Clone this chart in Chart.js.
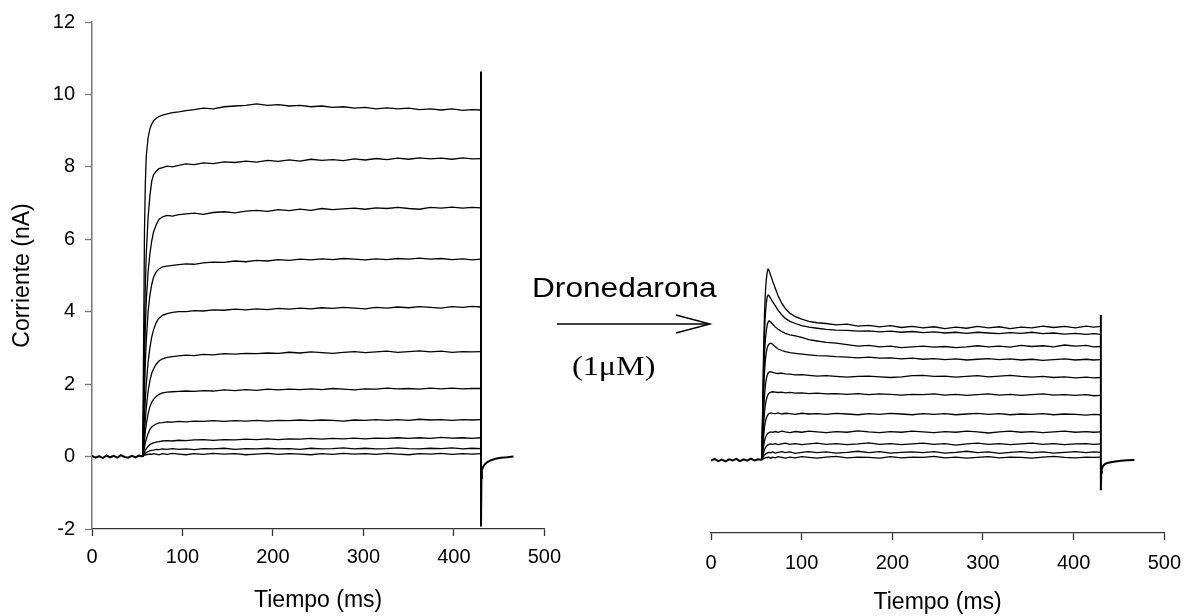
<!DOCTYPE html>
<html>
<head>
<meta charset="utf-8">
<script src="https://cdn.jsdelivr.net/npm/chart.js@4.4.1/dist/chart.umd.min.js"></script>
<style>
  html, body { margin: 0; padding: 0; background: #fff; }
  #wrap { position: relative; width: 1186px; height: 616px; overflow: hidden; }
  #left { position: absolute; left: 0; top: 0; }
  #right { position: absolute; left: 590px; top: 0; }
  .lbl { position: absolute; color: #000; white-space: nowrap; line-height: 1; transform-origin: 0 0; }
</style>
</head>
<body>
<div id="wrap">
  <canvas id="left" width="570" height="616"></canvas>
  <canvas id="right" width="602" height="616"></canvas>
  <svg style="position:absolute;left:0;top:0" width="1186" height="616">
    <line x1="557" y1="324" x2="709" y2="324" stroke="#000" stroke-width="1.4"/>
    <polyline points="676,315 710,324 676,333" fill="none" stroke="#000" stroke-width="1.4"/>
  </svg>
  <div class="lbl" style="left:532px; top:272px; font: 28px 'Liberation Sans', Arial, sans-serif; transform: scaleX(1.13);">Dronedarona</div>
  <div class="lbl" style="left:572px; top:350px; font: 28px 'Liberation Serif', 'Times New Roman', serif; transform: scaleX(1.15);">(1&mu;M)</div>
</div>
<script>
// time bases (ms)
const baseTime = [0, 4, 8, 12, 16, 20, 24, 28, 32, 36, 40, 44, 48, 52, 56];
const ctlTime = [56, 57, 58, 59, 60, 62, 64, 66, 68, 71, 74, 78, 83, 89, 96, 104, 113, 123, 134, 146, 158, 170, 182, 194, 206, 218, 230, 242, 254, 266, 278, 290, 302, 314, 326, 338, 350, 362, 374, 386, 398, 410, 420, 430];
const droTime = [56, 57, 58, 59, 60, 61, 62, 63, 64, 66, 68, 71, 74, 78, 82, 87, 93, 100, 108, 117, 127, 138, 150, 162, 174, 186, 198, 210, 222, 234, 246, 258, 270, 282, 294, 306, 318, 330, 342, 354, 366, 378, 390, 402, 414, 422, 430];
const ctlTailTime = [430, 430, 430.5, 431, 432, 434, 437, 441, 446, 452, 459, 466];
const droTailTime = [430, 430, 430.5, 431, 432, 434, 437, 441, 446, 452, 459, 467];

// holding current before the step (nA)
const ctlBase = [0.02, -0.03, 0.01, -0.04, 0.03, -0.02, 0.02, -0.03, 0.04, -0.01, -0.03, 0.02, -0.02, 0.03, 0];
const droBase = [-0.02, 0.03, -0.03, 0.01, -0.04, 0.02, -0.01, 0.03, -0.03, 0.02, -0.02, 0.04, -0.01, 0.02, 0];

// control sweeps (nA)
const ctlSweeps = [
  [0, 3.0, 6.2, 7.6, 8.3, 8.8, 9.05, 9.18, 9.27, 9.34, 9.39, 9.43, 9.46, 9.5, 9.52, 9.55, 9.58, 9.62, 9.6, 9.66, 9.68, 9.7, 9.74, 9.7, 9.72, 9.68, 9.7, 9.66, 9.68, 9.64, 9.66, 9.62, 9.64, 9.6, 9.63, 9.6, 9.62, 9.58, 9.6, 9.57, 9.6, 9.56, 9.58, 9.57],
  [0, 1.5, 3.5, 4.8, 5.6, 6.6, 7.2, 7.6, 7.78, 7.88, 7.95, 7.98, 8.02, 8.0, 8.04, 8.08, 8.06, 8.11, 8.09, 8.14, 8.12, 8.16, 8.13, 8.18, 8.15, 8.19, 8.16, 8.21, 8.18, 8.2, 8.17, 8.22, 8.19, 8.23, 8.2, 8.24, 8.21, 8.25, 8.22, 8.24, 8.21, 8.25, 8.22, 8.23],
  [0, 1.2, 2.6, 3.6, 4.3, 5.1, 5.6, 5.95, 6.2, 6.4, 6.55, 6.62, 6.66, 6.64, 6.68, 6.7, 6.72, 6.69, 6.74, 6.76, 6.73, 6.78, 6.8, 6.77, 6.82, 6.79, 6.83, 6.8, 6.85, 6.82, 6.84, 6.86, 6.83, 6.87, 6.85, 6.88, 6.85, 6.83, 6.88, 6.86, 6.89, 6.86, 6.88, 6.87],
  [0, 0.8, 1.8, 2.6, 3.2, 4.0, 4.45, 4.75, 4.95, 5.1, 5.18, 5.24, 5.26, 5.28, 5.3, 5.32, 5.31, 5.35, 5.37, 5.36, 5.4, 5.38, 5.42, 5.4, 5.44, 5.42, 5.45, 5.43, 5.46, 5.44, 5.47, 5.45, 5.43, 5.46, 5.44, 5.47, 5.45, 5.48, 5.45, 5.47, 5.44, 5.46, 5.43, 5.45],
  [0, 0.5, 1.1, 1.6, 2.0, 2.6, 3.0, 3.3, 3.5, 3.7, 3.82, 3.9, 3.95, 3.98, 4.0, 4.0, 4.03, 4.02, 4.05, 4.04, 4.07, 4.05, 4.08, 4.06, 4.09, 4.07, 4.1, 4.08, 4.11, 4.09, 4.12, 4.1, 4.08, 4.12, 4.1, 4.13, 4.11, 4.14, 4.12, 4.1, 4.14, 4.12, 4.15, 4.13],
  [0, 0.3, 0.7, 1.05, 1.35, 1.8, 2.1, 2.3, 2.42, 2.55, 2.64, 2.7, 2.74, 2.76, 2.78, 2.8, 2.79, 2.82, 2.81, 2.84, 2.83, 2.85, 2.84, 2.86, 2.85, 2.88, 2.86, 2.89, 2.87, 2.85, 2.88, 2.9, 2.87, 2.89, 2.91, 2.88, 2.9, 2.92, 2.89, 2.91, 2.88, 2.9, 2.89, 2.9],
  [0, 0.2, 0.45, 0.7, 0.9, 1.18, 1.38, 1.5, 1.58, 1.66, 1.72, 1.76, 1.78, 1.79, 1.8, 1.81, 1.8, 1.82, 1.81, 1.84, 1.82, 1.85, 1.83, 1.86, 1.84, 1.86, 1.85, 1.87, 1.85, 1.88, 1.86, 1.84, 1.87, 1.86, 1.89, 1.87, 1.88, 1.86, 1.89, 1.87, 1.89, 1.87, 1.88, 1.88],
  [0, 0.12, 0.25, 0.38, 0.48, 0.64, 0.75, 0.82, 0.86, 0.9, 0.93, 0.94, 0.96, 0.95, 0.97, 0.96, 0.98, 0.97, 0.99, 0.97, 0.99, 0.98, 1.0, 0.98, 1.0, 0.99, 1.01, 0.99, 1.01, 1.0, 0.98, 1.01, 1.0, 1.02, 1.0, 1.02, 1.0, 1.03, 1.01, 1.02, 1.0, 1.02, 1.01, 1.02],
  [0, 0.06, 0.12, 0.18, 0.22, 0.28, 0.33, 0.36, 0.38, 0.4, 0.41, 0.43, 0.44, 0.43, 0.45, 0.44, 0.46, 0.47, 0.45, 0.47, 0.46, 0.48, 0.47, 0.49, 0.47, 0.49, 0.48, 0.5, 0.48, 0.5, 0.49, 0.51, 0.49, 0.51, 0.5, 0.52, 0.5, 0.52, 0.5, 0.53, 0.51, 0.52, 0.5, 0.52],
  [0, 0.03, 0.06, 0.09, 0.11, 0.14, 0.16, 0.17, 0.18, 0.2, 0.19, 0.21, 0.2, 0.22, 0.2, 0.21, 0.19, 0.22, 0.21, 0.23, 0.2, 0.22, 0.21, 0.23, 0.21, 0.22, 0.2, 0.23, 0.21, 0.22, 0.24, 0.21, 0.23, 0.21, 0.22, 0.24, 0.22, 0.21, 0.23, 0.22, 0.24, 0.21, 0.23, 0.22],
  [0, 0.02, 0.04, 0.05, 0.05, 0.06, 0.07, 0.06, 0.08, 0.07, 0.05, 0.08, 0.06, 0.09, 0.07, 0.05, 0.08, 0.06, 0.09, 0.07, 0.08, 0.05, 0.07, 0.09, 0.06, 0.08, 0.07, 0.05, 0.08, 0.06, 0.09, 0.07, 0.08, 0.06, 0.09, 0.07, 0.05, 0.08, 0.07, 0.09, 0.06, 0.08, 0.07, 0.08]
];

// sweeps with dronedarone 1 uM (nA)
const droSweeps = [
  [0, 1.5, 3.0, 4.0, 4.6, 4.95, 5.15, 5.23, 5.2, 5.05, 4.9, 4.7, 4.5, 4.3, 4.15, 4.02, 3.93, 3.86, 3.8, 3.76, 3.74, 3.7, 3.72, 3.67, 3.69, 3.65, 3.68, 3.63, 3.66, 3.62, 3.65, 3.6, 3.64, 3.61, 3.66, 3.62, 3.65, 3.6, 3.64, 3.62, 3.67, 3.63, 3.66, 3.62, 3.67, 3.64, 3.66],
  [0, 1.3, 2.6, 3.5, 4.0, 4.3, 4.47, 4.52, 4.5, 4.42, 4.33, 4.22, 4.1, 3.98, 3.88, 3.8, 3.74, 3.68, 3.64, 3.61, 3.58, 3.56, 3.55, 3.53, 3.54, 3.51, 3.53, 3.5, 3.52, 3.49, 3.51, 3.48, 3.5, 3.47, 3.5, 3.48, 3.46, 3.49, 3.47, 3.5, 3.46, 3.48, 3.45, 3.47, 3.44, 3.46, 3.44],
  [0, 1.1, 2.2, 2.9, 3.3, 3.55, 3.7, 3.78, 3.81, 3.78, 3.72, 3.64, 3.58, 3.52, 3.47, 3.43, 3.4, 3.36, 3.3, 3.26, 3.22, 3.2, 3.16, 3.12, 3.14, 3.1, 3.12, 3.08, 3.1, 3.12, 3.09, 3.11, 3.08, 3.1, 3.13, 3.1, 3.12, 3.09, 3.14, 3.11, 3.13, 3.1, 3.15, 3.12, 3.14, 3.1, 3.11],
  [0, 0.9, 1.8, 2.4, 2.75, 2.95, 3.07, 3.14, 3.18, 3.2, 3.17, 3.1, 3.04, 3.0, 2.97, 2.94, 2.92, 2.9, 2.88, 2.86, 2.85, 2.83, 2.82, 2.8, 2.82, 2.79, 2.8, 2.77, 2.79, 2.76, 2.78, 2.75, 2.77, 2.74, 2.76, 2.78, 2.75, 2.77, 2.74, 2.76, 2.73, 2.75, 2.77, 2.74, 2.76, 2.74, 2.75],
  [0, 0.6, 1.3, 1.75, 2.05, 2.22, 2.32, 2.38, 2.41, 2.42, 2.4, 2.38, 2.37, 2.38, 2.36, 2.35, 2.33, 2.34, 2.32, 2.3, 2.31, 2.29, 2.27, 2.29, 2.3, 2.28, 2.26, 2.28, 2.31, 2.32, 2.29, 2.3, 2.27, 2.29, 2.31, 2.28, 2.3, 2.32, 2.29, 2.27, 2.29, 2.26, 2.28, 2.25, 2.27, 2.25, 2.26],
  [0, 0.45, 0.95, 1.3, 1.52, 1.65, 1.74, 1.8, 1.83, 1.86, 1.87, 1.86, 1.85, 1.86, 1.84, 1.85, 1.83, 1.84, 1.82, 1.83, 1.81, 1.82, 1.8, 1.82, 1.79, 1.81, 1.8, 1.78, 1.8, 1.79, 1.81, 1.78, 1.8, 1.77, 1.79, 1.81, 1.78, 1.8, 1.77, 1.79, 1.81, 1.78, 1.79, 1.77, 1.79, 1.76, 1.77],
  [0, 0.3, 0.65, 0.9, 1.05, 1.15, 1.21, 1.25, 1.27, 1.29, 1.28, 1.27, 1.29, 1.26, 1.28, 1.27, 1.25, 1.28, 1.26, 1.27, 1.25, 1.28, 1.26, 1.24, 1.27, 1.25, 1.28, 1.26, 1.24, 1.27, 1.25, 1.27, 1.24, 1.26, 1.28, 1.25, 1.27, 1.24, 1.26, 1.25, 1.27, 1.24, 1.26, 1.25, 1.23, 1.25, 1.24],
  [0, 0.18, 0.38, 0.52, 0.61, 0.67, 0.71, 0.74, 0.75, 0.77, 0.76, 0.78, 0.76, 0.79, 0.77, 0.75, 0.78, 0.76, 0.79, 0.77, 0.75, 0.78, 0.76, 0.8, 0.77, 0.75, 0.78, 0.76, 0.79, 0.77, 0.75, 0.78, 0.76, 0.79, 0.77, 0.74, 0.77, 0.79, 0.76, 0.78, 0.75, 0.77, 0.79, 0.76, 0.78, 0.76, 0.77],
  [0, 0.1, 0.2, 0.28, 0.34, 0.37, 0.4, 0.42, 0.43, 0.44, 0.43, 0.45, 0.42, 0.44, 0.46, 0.43, 0.45, 0.42, 0.44, 0.46, 0.43, 0.45, 0.42, 0.44, 0.47, 0.43, 0.45, 0.42, 0.44, 0.46, 0.43, 0.45, 0.41, 0.44, 0.46, 0.43, 0.45, 0.42, 0.44, 0.46, 0.43, 0.45, 0.42, 0.44, 0.45, 0.43, 0.44],
  [0, 0.05, 0.1, 0.14, 0.16, 0.18, 0.19, 0.2, 0.21, 0.2, 0.22, 0.19, 0.21, 0.23, 0.2, 0.22, 0.18, 0.21, 0.23, 0.2, 0.22, 0.19, 0.21, 0.24, 0.2, 0.23, 0.19, 0.21, 0.22, 0.2, 0.23, 0.19, 0.21, 0.24, 0.2, 0.22, 0.18, 0.21, 0.23, 0.2, 0.22, 0.19, 0.21, 0.23, 0.2, 0.22, 0.21],
  [0, 0.02, 0.04, 0.05, 0.06, 0.07, 0.06, 0.08, 0.07, 0.05, 0.08, 0.06, 0.09, 0.07, 0.05, 0.08, 0.06, 0.09, 0.07, 0.05, 0.08, 0.1, 0.06, 0.08, 0.07, 0.05, 0.09, 0.06, 0.08, 0.07, 0.1, 0.06, 0.08, 0.05, 0.07, 0.09, 0.06, 0.08, 0.07, 0.05, 0.08, 0.1, 0.07, 0.06, 0.08, 0.07, 0.08]
];

// end-of-step transient and tail (nA)
const ctlTail = [10.63, -1.93, -0.6, -0.38, -0.3, -0.22, -0.15, -0.1, -0.06, -0.03, -0.02, 0.0];
const droTail = [3.97, -0.83, -0.35, -0.25, -0.18, -0.12, -0.08, -0.06, -0.04, -0.02, -0.01, 0.0];

const xTicks = [0, 100, 200, 300, 400, 500];
const yTicks = [-2, 0, 2, 4, 6, 8, 10, 12];

Chart.defaults.font.family = "'Liberation Sans', Arial, sans-serif";
Chart.defaults.color = '#000';

function pts(t, v) {
  return t.map((x, i) => ({ x: x, y: v[i] }));
}

function trace(t, v, w) {
  return {
    data: pts(t, v),
    borderColor: '#000',
    borderWidth: w || 1.3,
    pointRadius: 0,
    fill: false,
    tension: 0
  };
}

function buildSets(base, time, sweeps, tailTime, tail) {
  const sets = [trace(baseTime, base, 2)];
  sweeps.forEach(s => sets.push(trace(time, s)));
  sets.push(trace(tailTime, tail, 2));
  return sets;
}

function opts(showY, pad, xHeight, tickPad, titlePad) {
  return {
    responsive: false,
    animation: false,
    devicePixelRatio: 1,
    layout: { padding: pad },
    plugins: { legend: { display: false }, tooltip: { enabled: false } },
    scales: {
      x: {
        type: 'linear',
        min: 0,
        max: 500,
        afterBuildTicks: s => { s.ticks = xTicks.map(v => ({ value: v })); },
        ticks: { font: { size: 20 }, padding: tickPad, maxRotation: 0, color: '#000' },
        grid: { drawOnChartArea: false, drawTicks: true, tickLength: 7, tickColor: '#333', tickWidth: 1.3 },
        border: { display: true, color: '#333', width: 1.3 },
        title: { display: true, text: 'Tiempo (ms)', font: { size: 23 }, color: '#000', padding: { top: 0, bottom: titlePad } },
        afterFit: s => { s.height = xHeight; }
      },
      y: {
        display: showY,
        min: -2,
        max: 12,
        afterBuildTicks: s => { s.ticks = yTicks.map(v => ({ value: v })); },
        ticks: { font: { size: 20 }, padding: 10, color: '#000' },
        grid: { drawOnChartArea: false, drawTicks: true, tickLength: 7, tickColor: '#777', tickWidth: 1.3 },
        border: { display: true, color: '#777', width: 1.5 },
        title: { display: true, text: 'Corriente (nA)', font: { size: 23 }, color: '#000', padding: { top: 9, bottom: 0 } },
        afterFit: s => { s.width = showY ? 92 : 0; }
      }
    }
  };
}

new Chart(document.getElementById('left'), {
  type: 'line',
  data: { datasets: buildSets(ctlBase, ctlTime, ctlSweeps, ctlTailTime, ctlTail) },
  options: opts(true, { left: 0, right: 0, top: 22, bottom: 0 }, 87, 9, 2)
});

new Chart(document.getElementById('right'), {
  type: 'line',
  data: { datasets: buildSets(droBase, droTime, droSweeps, droTailTime, droTail) },
  options: opts(false, { left: 121, right: 0, top: 22, bottom: 0 }, 83, 11, 0)
});
</script>
</body>
</html>
